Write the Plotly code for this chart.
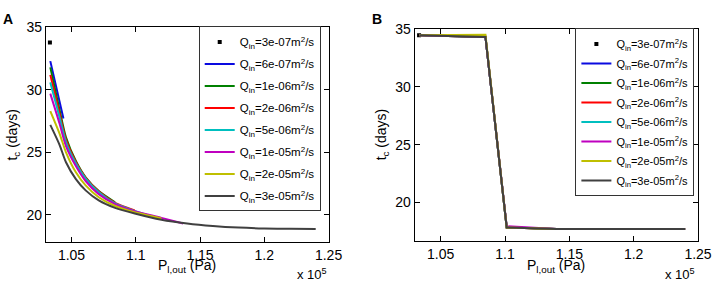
import plotly.graph_objects as go

# ---------------- data (pressure in units of 1e5 Pa, time in days) ----------------
series_names = ["3e-07", "6e-07", "1e-06", "2e-06", "5e-06", "1e-05", "2e-05", "3e-05"]
colors = ["#000000", "#0a0ae0", "#008000", "#ff0000", "#00bfbf", "#bf00bf", "#bfbf00", "#404040"]

# Panel A
A_x_q3e7 = [1.0332]
A_y_q3e7 = [33.8]
A_x_q6e7 = [1.0335, 1.0437]
A_y_q6e7 = [32.3, 27.7]
A_x_q1e6 = [1.0335, 1.0407, 1.0457, 1.0534, 1.0610, 1.0712, 1.0839]
A_y_q1e6 = [31.8, 28.4, 26.2, 24.3, 23.0, 21.9, 21.0]
A_x_q2e6 = [1.0335, 1.0407, 1.0457, 1.0534, 1.0610, 1.0712, 1.0839, 1.0992]
A_y_q2e6 = [31.2, 28.1, 26.0, 24.2, 22.95, 21.85, 20.95, 20.35]
A_x_q5e6 = [1.0335, 1.0407, 1.0457, 1.0534, 1.0610, 1.0712, 1.0839, 1.0992, 1.1100]
A_y_q5e6 = [30.6, 27.8, 25.8, 24.1, 22.9, 21.8, 20.9, 20.3, 19.95]
A_x_q1e5 = [1.0335, 1.0407, 1.0457, 1.0534, 1.0610, 1.0712, 1.0839, 1.0992, 1.1200, 1.1369]
A_y_q1e5 = [29.7, 27.3, 25.5, 23.9, 22.7, 21.65, 20.85, 20.28, 19.75, 19.3]
A_x_q2e5 = [1.0335, 1.0407, 1.0457, 1.0534, 1.0610, 1.0712, 1.0839, 1.0992, 1.1200]
A_y_q2e5 = [28.3, 26.5, 25.0, 23.4, 22.35, 21.4, 20.7, 20.2, 19.7]
A_x_q3e5 = [1.0335, 1.0407, 1.0457, 1.0534, 1.0610, 1.0712, 1.0839, 1.0992, 1.12, 1.14, 1.16, 1.18, 1.20, 1.22, 1.24]
A_y_q3e5 = [27.2, 25.6, 24.2, 22.85, 21.95, 21.15, 20.55, 20.1, 19.6, 19.3, 19.1, 18.97, 18.9, 18.87, 18.85]

# Panel B
B_x_q3e7 = [1.0332]
B_y_q3e7 = [34.45]
B_x_common = [1.0335, 1.0600, 1.0848, 1.1013, 1.1200, 1.1400, 1.2400]
B_y_q6e7 = [34.45, 34.4, 34.3, 17.85, 17.78, 17.72, 17.72]
B_y_q1e6 = [34.45, 34.4, 34.3, 17.85, 17.78, 17.72, 17.72]
B_y_q2e6 = [34.45, 34.4, 34.3, 17.85, 17.78, 17.72, 17.72]
B_y_q5e6 = [34.45, 34.4, 34.32, 17.87, 17.79, 17.72, 17.72]
B_y_q1e5 = [34.45, 34.4, 34.35, 17.95, 17.82, 17.72, 17.72]
B_y_q2e5 = [34.45, 34.45, 34.5, 17.85, 17.78, 17.72, 17.72]
B_y_q3e5 = [34.45, 34.4, 34.3, 17.85, 17.78, 17.72, 17.72]

x_tickvals = [1.05, 1.10, 1.15, 1.20, 1.25]
x_ticktext = ["1.05", "1.1", "1.15", "1.2", "1.25"]
y_tickvals = [20, 25, 30, 35]
y_ticktext = ["20", "25", "30", "35"]

A_xs = [A_x_q3e7, A_x_q6e7, A_x_q1e6, A_x_q2e6, A_x_q5e6, A_x_q1e5, A_x_q2e5, A_x_q3e5]
A_ys = [A_y_q3e7, A_y_q6e7, A_y_q1e6, A_y_q2e6, A_y_q5e6, A_y_q1e5, A_y_q2e5, A_y_q3e5]
B_xs = [B_x_q3e7] + [B_x_common] * 7
B_ys = [B_y_q3e7, B_y_q6e7, B_y_q1e6, B_y_q2e6, B_y_q5e6, B_y_q1e5, B_y_q2e5, B_y_q3e5]

W, H = 728, 283
FONT = "Liberation Sans, Arial, sans-serif"

fig = go.Figure()

def label(q):
    return "Q<sub>in</sub>=" + q + "m<sup>2</sup>/s"

for panel, xs_list, ys_list, xa, ya, leg, shape in [
    ("A", A_xs, A_ys, "x", "y", "legend", "spline"),
    ("B", B_xs, B_ys, "x2", "y2", "legend2", "linear"),
]:
    for i, (q, c, xs, ys) in enumerate(zip(series_names, colors, xs_list, ys_list)):
        if i == 0:
            fig.add_trace(go.Scatter(
                x=xs, y=ys, mode="markers", name=label(q),
                marker=dict(symbol="square", size=4, color=c),
                xaxis=xa, yaxis=ya, legend=leg, legendgroup=panel + str(i),
            ))
        else:
            fig.add_trace(go.Scatter(
                x=xs, y=ys, mode="lines", name=label(q),
                line=dict(color=c, width=2, shape=shape, smoothing=0.7),
                xaxis=xa, yaxis=ya, legend=leg, legendgroup=panel + str(i),
            ))

def px_x(p):
    return p / W

def px_y(p):
    return 1 - p / H

axis_common = dict(
    showline=True, linecolor="#000000", linewidth=1, mirror="ticks",
    ticks="inside", ticklen=5, tickcolor="#000000", showgrid=False, zeroline=False,
    tickfont=dict(family=FONT, size=14, color="#000000"),
)

fig.update_layout(
    width=W, height=H, autosize=False,
    margin=dict(l=0, r=0, t=0, b=0),
    paper_bgcolor="white", plot_bgcolor="white",
    font=dict(family=FONT, color="#000000"),
    xaxis=dict(domain=[px_x(46.7), px_x(335)], range=[1.030, 1.25],
               tickvals=x_tickvals, ticktext=x_ticktext, anchor="y", **axis_common),
    yaxis=dict(domain=[px_y(241), px_y(20)], range=[17.8, 35],
               tickvals=y_tickvals, ticktext=y_ticktext, anchor="x", **axis_common),
    xaxis2=dict(domain=[px_x(422.7), px_x(711.7)], range=[1.0297, 1.25],
                tickvals=x_tickvals, ticktext=x_ticktext, anchor="y2", **axis_common),
    yaxis2=dict(domain=[px_y(239.5), px_y(21.5)], range=[16.7, 35],
                tickvals=y_tickvals, ticktext=y_ticktext, anchor="x2", **axis_common),
    legend=dict(x=px_x(327), y=px_y(19), xanchor="right", yanchor="top",
                bgcolor="white", bordercolor="#333333", borderwidth=1,
                font=dict(family=FONT, size=11.5, color="#000000"),
                tracegroupgap=3, itemwidth=30, traceorder="grouped"),
    legend2=dict(x=px_x(708), y=px_y(21), xanchor="right", yanchor="top",
                 bgcolor="white", bordercolor="#333333", borderwidth=1,
                 font=dict(family=FONT, size=11, color="#000000"),
                 tracegroupgap=0.5, itemwidth=30, traceorder="grouped"),
    showlegend=True,
)

ann_font = dict(family=FONT, size=14, color="#000000")
annotations = [
    dict(text="<b>A</b>", x=px_x(8.5), y=px_y(11.5), xanchor="center", yanchor="middle",
         font=dict(family=FONT, size=14, color="#000000")),
    dict(text="<b>B</b>", x=px_x(384.5), y=px_y(11.5), xanchor="center", yanchor="middle",
         font=dict(family=FONT, size=14, color="#000000")),
    dict(text="t<sub>c</sub> (days)", x=px_x(13), y=px_y(130.5), textangle=-90,
         xanchor="center", yanchor="middle", font=ann_font),
    dict(text="t<sub>c</sub> (days)", x=px_x(389), y=px_y(130.5), textangle=-90,
         xanchor="center", yanchor="middle", font=ann_font),
    dict(text="P<sub>l,out</sub> (Pa)", x=px_x(191), y=px_y(254), xanchor="center", yanchor="top",
         font=ann_font),
    dict(text="P<sub>l,out</sub> (Pa)", x=px_x(567), y=px_y(254), xanchor="center", yanchor="top",
         font=ann_font),
    dict(text="x 10<sup>5</sup>", x=px_x(335), y=px_y(274), xanchor="right", yanchor="middle",
         font=dict(family=FONT, size=13, color="#000000")),
    dict(text="x 10<sup>5</sup>", x=px_x(711), y=px_y(274), xanchor="right", yanchor="middle",
         font=dict(family=FONT, size=13, color="#000000")),
]
for a in annotations:
    a.update(xref="paper", yref="paper", showarrow=False)
fig.update_layout(annotations=annotations)

fig.write_html("out.html", config={"displayModeBar": False},
               post_script="document.body.style.margin='0';")
